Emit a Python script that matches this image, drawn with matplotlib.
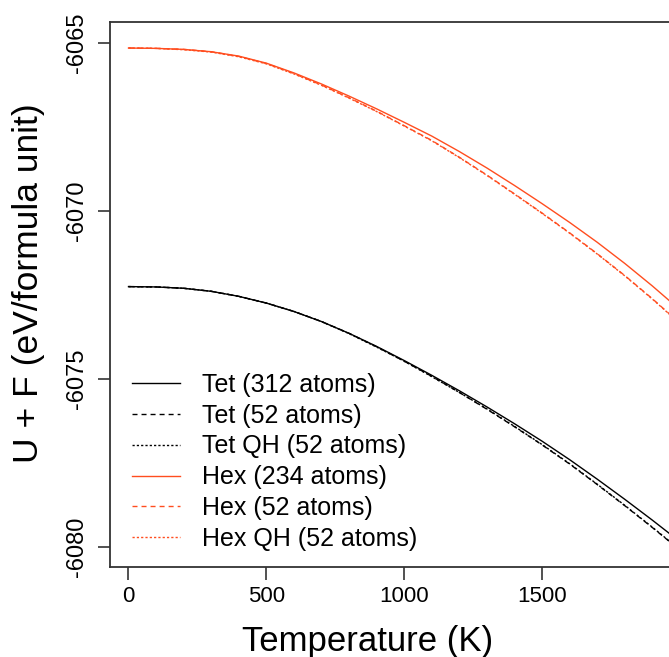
import numpy as np
import matplotlib
matplotlib.use('Agg')
import matplotlib.pyplot as plt

# Free energy (U + F) per formula unit vs temperature
temperature = [0, 100, 200, 300, 400, 500, 600, 700, 800, 900, 1000,
               1100, 1200, 1300, 1400, 1500, 1600, 1700, 1800, 1900, 2000]

tet_312 = [-6072.25, -6072.26, -6072.30, -6072.39, -6072.54, -6072.74, -6072.99,
           -6073.29, -6073.64, -6074.03, -6074.45, -6074.89, -6075.35, -6075.83,
           -6076.33, -6076.85, -6077.40, -6077.98, -6078.58, -6079.20, -6079.84]
tet_52 = [-6072.25, -6072.26, -6072.30, -6072.39, -6072.54, -6072.74, -6072.99,
          -6073.29, -6073.64, -6074.04, -6074.47, -6074.92, -6075.40, -6075.90,
          -6076.42, -6076.96, -6077.53, -6078.14, -6078.77, -6079.42, -6080.09]
tet_qh_52 = [-6072.25, -6072.26, -6072.30, -6072.39, -6072.54, -6072.74, -6072.99,
             -6073.29, -6073.65, -6074.05, -6074.47, -6074.93, -6075.40, -6075.89,
             -6076.41, -6076.95, -6077.52, -6078.13, -6078.76, -6079.41, -6080.08]

hex_234 = [-6065.15, -6065.16, -6065.19, -6065.26, -6065.39, -6065.60, -6065.89,
           -6066.22, -6066.58, -6066.96, -6067.36, -6067.77, -6068.23, -6068.72,
           -6069.24, -6069.78, -6070.34, -6070.93, -6071.56, -6072.23, -6072.94]
hex_52 = [-6065.15, -6065.16, -6065.19, -6065.26, -6065.40, -6065.61, -6065.91,
          -6066.25, -6066.63, -6067.03, -6067.46, -6067.90, -6068.40, -6068.93,
          -6069.49, -6070.06, -6070.65, -6071.27, -6071.92, -6072.61, -6073.34]
hex_qh_52 = [-6065.15, -6065.16, -6065.20, -6065.27, -6065.41, -6065.62, -6065.92,
             -6066.26, -6066.64, -6067.04, -6067.47, -6067.91, -6068.41, -6068.94,
             -6069.50, -6070.07, -6070.66, -6071.28, -6071.93, -6072.62, -6073.35]

labels = ['Tet (312 atoms)', 'Tet (52 atoms)', 'Tet QH (52 atoms)',
          'Hex (234 atoms)', 'Hex (52 atoms)', 'Hex QH (52 atoms)']

plt.rcParams['font.family'] = ['Liberation Sans', 'DejaVu Sans']

fig = plt.figure(figsize=(6.69, 6.57), dpi=100)
W, H = 669, 657
# axes box in pixels: left 110, right runs off the image, top 22, bottom 567
ax = fig.add_axes([110 / W, (H - 567) / H, (W - 110) / W, (567 - 22) / H])

orange = '#FF4D1F'
lw = 1.0
dashed = (0, (3.6, 2.9))
dotted = (0, (1.6, 1.5))
ax.plot(temperature, tet_312, color='black', lw=lw, ls='-', label=labels[0])
ax.plot(temperature, tet_52, color='black', lw=lw, ls=dashed, label=labels[1])
ax.plot(temperature, tet_qh_52, color='black', lw=lw, ls=dotted, label=labels[2])
ax.plot(temperature, hex_234, color=orange, lw=lw, ls='-', label=labels[3])
ax.plot(temperature, hex_52, color=orange, lw=lw, ls=dashed, label=labels[4])
ax.plot(temperature, hex_qh_52, color=orange, lw=lw, ls=dotted, label=labels[5])

ax.set_xlim(-67.1, 1960.5)
ax.set_ylim(-6080.595, -6064.375)
ax.set_xticks([0, 500, 1000, 1500])
ax.set_yticks([-6080, -6075, -6070, -6065])
ax.set_yticklabels(['-6080', '-6075', '-6070', '-6065'], rotation=90, va='center')

ax.spines['right'].set_visible(False)
for s in ['left', 'top', 'bottom']:
    ax.spines[s].set_linewidth(1.3)
    ax.spines[s].set_color('#333333')
ax.tick_params(axis='both', length=9, width=1.2, color='#333333')
ax.tick_params(axis='x', pad=5, labelsize=16)
ax.tick_params(axis='y', pad=7, labelsize=17)

# axis titles placed in figure pixels (R centres them on its own plot region)
fig.text(368 / W, 1 - 641 / H, 'Temperature (K)', fontsize=25,
         ha='center', va='center')
fig.text(29 / W, 1 - 283 / H, 'U + F (eV/formula unit)', fontsize=25.5,
         ha='center', va='center', rotation=90)

ax.legend(loc='upper left', bbox_to_anchor=(22 / 559, (567 - 373) / 545),
          frameon=False, fontsize=18, handlelength=1.92, handletextpad=0.88,
          labelspacing=0.27, borderpad=0, borderaxespad=0)

fig.savefig('out.png', dpi=100)
